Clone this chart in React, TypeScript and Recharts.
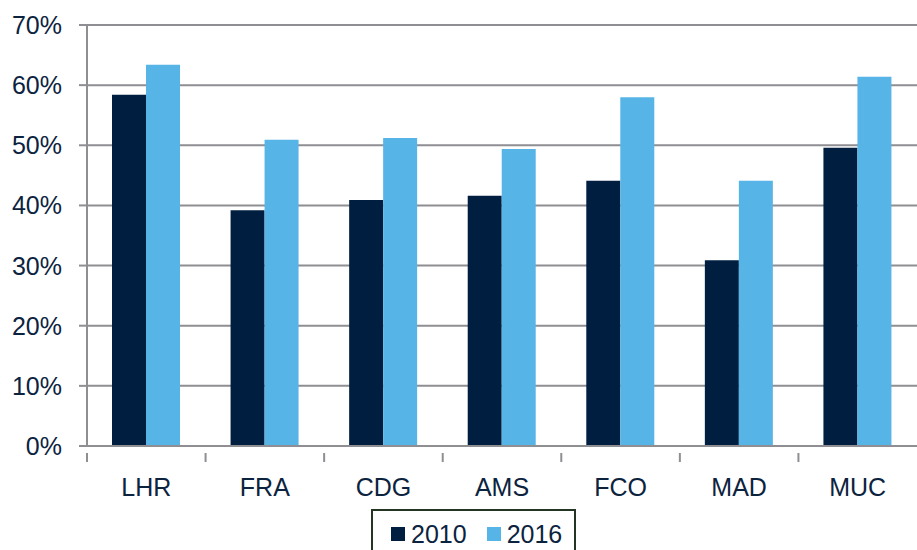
import React from 'react';
import { BarChart, Bar, XAxis, YAxis, CartesianGrid, Legend } from 'recharts';

const categories = ['LHR', 'FRA', 'CDG', 'AMS', 'FCO', 'MAD', 'MUC'];
const values2010 = [58.4, 39.2, 40.9, 41.6, 44.1, 30.9, 49.6];
const values2016 = [63.4, 50.9, 51.2, 49.4, 58.0, 44.1, 61.4];
const yTicks = [0, 10, 20, 30, 40, 50, 60, 70];

const data = categories.map((c, i) => ({ name: c, y2010: values2010[i], y2016: values2016[i] }));

const W = 917;
const H = 550;
const LEFT = 87;
const RIGHT = 0;
const TEXT = '#0c2340';
const GRID = '#8e8e93';
const DARK = '#001f40';
const LIGHT = '#56b5e6';
const FONT = '"Liberation Sans", Arial, sans-serif';
const step = (W - LEFT - RIGHT) / categories.length;

const XTick = (props: any) => {
  const { x, y, payload } = props;
  return (
    <g>
      <line x1={x - step / 2} x2={x - step / 2} y1={y - 1} y2={y + 8} stroke={GRID} strokeWidth={2} />
      <text x={x} y={y + 42} textAnchor="middle" fill={TEXT} fontSize={25} fontFamily={FONT}>
        {payload.value}
      </text>
    </g>
  );
};

const YTick = (props: any) => {
  const { x, y, payload } = props;
  return (
    <text x={x} y={y + 9} textAnchor="end" fill={TEXT} fontSize={25} fontFamily={FONT}>
      {payload.value}%
    </text>
  );
};

const LegendContent = () => (
  <div
    style={{
      border: '2px solid #243524',
      width: 205,
      height: 50,
      boxSizing: 'border-box',
      display: 'flex',
      alignItems: 'center',
      paddingLeft: 18,
      fontFamily: FONT,
      fontSize: 25,
      color: TEXT,
    }}
  >
    <span style={{ width: 14, height: 14, background: DARK, display: 'inline-block', marginRight: 6 }} />
    <span>2010</span>
    <span style={{ width: 14, height: 14, background: LIGHT, display: 'inline-block', marginLeft: 20, marginRight: 6 }} />
    <span>2016</span>
  </div>
);

export default function App() {
  return (
    <div style={{ position: 'absolute', left: 0, top: 0, width: W, height: H, background: '#fff' }}>
      <BarChart
        width={W}
        height={H}
        data={data}
        margin={{ top: 25, right: RIGHT, left: 0, bottom: 0 }}
        barGap={0}
        barSize={34}
      >
        <CartesianGrid vertical={false} stroke={GRID} strokeWidth={2} />
        <XAxis
          dataKey="name"
          tick={<XTick />}
          tickLine={false}
          axisLine={{ stroke: GRID, strokeWidth: 2 }}
          interval={0}
          height={54}
        />
        <YAxis
          domain={[0, 70]}
          ticks={yTicks}
          width={LEFT}
          tick={<YTick />}
          tickSize={8}
          tickMargin={17}
          tickLine={{ stroke: GRID, strokeWidth: 2 }}
          axisLine={{ stroke: GRID, strokeWidth: 2 }}
          interval={0}
        />
        <Legend
          content={<LegendContent />}
          wrapperStyle={{ position: 'absolute', left: 371, top: 509, width: 205, height: 50 }}
        />
        <Bar dataKey="y2010" fill={DARK} isAnimationActive={false} />
        <Bar dataKey="y2016" fill={LIGHT} isAnimationActive={false} />
      </BarChart>
    </div>
  );
}
